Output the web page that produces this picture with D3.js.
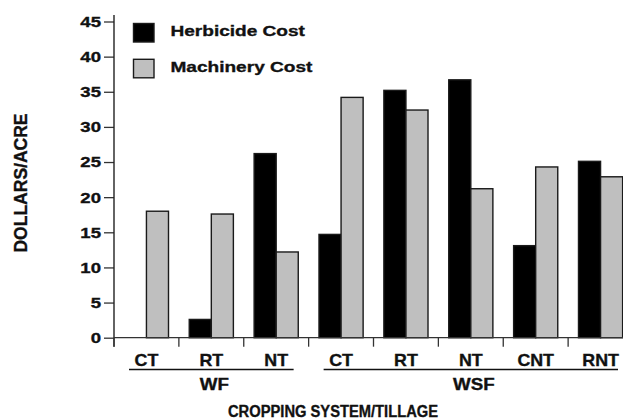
<!DOCTYPE html>
<html>
<head>
<meta charset="utf-8">
<script src="https://cdn.jsdelivr.net/npm/d3@7"></script>
<style>
    body { margin: 0; background: #fff; }
    text { font-family: "Liberation Sans", Arial, sans-serif; font-weight: bold; fill: #111;
           stroke: #111; stroke-width: 0.35px; }
</style>
</head>
<body>
<script>
// chart values
const systems = ["WF", "WF", "WF", "WSF", "WSF", "WSF", "WSF", "WSF"];
const tillage = ["CT", "RT", "NT", "CT", "RT", "NT", "CNT", "RNT"];
const herbicide = [0, 2.6, 26.2, 14.7, 35.2, 36.7, 13.1, 25.1];
const machinery = [18.0, 17.6, 12.2, 34.2, 32.4, 21.2, 24.3, 22.9];
const seriesNames = ["Herbicide Cost", "Machinery Cost"];
const yTicks = [0, 5, 10, 15, 20, 25, 30, 35, 40, 45];

const width = 623, height = 419;
const colors = { "Herbicide Cost": "#000", "Machinery Cost": "#bfbfbf" };

const keys = tillage.map((t, i) => systems[i] + "-" + t);
let rows = keys.map((k, i) => ({ key: k, system: systems[i], tillage: tillage[i],
    values: [herbicide[i], machinery[i]] }));

let svg = d3.select("body").append("svg")
    .attr("width", width)
    .attr("height", height);

// the original lettering is wider than Arial, so stretch it sideways
function wideText(parent, px, py, str, size, sx, anchor) {
    return parent.append("text")
        .attr("transform", "translate(" + px + "," + py + ") scale(" + sx + ",1)")
        .attr("text-anchor", anchor || "start")
        .attr("font-size", size)
        .text(str);
}

let x = d3.scaleBand()
    .domain(keys)
    .range([114, 633])
    .padding(0);

let x1 = d3.scaleBand()
    .domain(seriesNames)
    .range([0, x.bandwidth()])
    .paddingInner(0)
    .paddingOuter(0.47);

let y = d3.scaleLinear()
    .domain([0, 45])
    .range([337.7, 21.5]);

const y0 = y(0);

// bars
let groups = svg.append("g").selectAll("g")
    .data(rows)
    .join("g")
    .attr("transform", d => "translate(" + x(d.key) + ",0)");

groups.selectAll("rect")
    .data(d => d.values.map((v, j) => ({ name: seriesNames[j], value: v })).filter(e => e.value > 0))
    .join("rect")
    .attr("x", d => x1(d.name))
    .attr("y", d => y(d.value))
    .attr("width", x1.bandwidth())
    .attr("height", d => y0 - y(d.value))
    .attr("fill", d => colors[d.name])
    .attr("stroke", "#1a1a1a")
    .attr("stroke-width", 1.4);

// y axis
let yAxis = svg.append("g")
    .attr("transform", "translate(" + x.range()[0] + ",0)")
    .call(d3.axisLeft(y).tickValues(yTicks).tickSize(10).tickPadding(3).tickSizeOuter(0));
yAxis.select(".domain").remove();
yAxis.selectAll(".tick line").attr("stroke", "#333").attr("stroke-width", 1.3);
yAxis.selectAll(".tick text")
    .attr("x", -13 / 1.2)
    .attr("transform", "scale(1.2,1)")
    .attr("font-size", 15.5)
    .attr("font-family", "Liberation Sans, Arial, sans-serif")
    .attr("font-weight", "bold")
    .attr("fill", "#111");

svg.append("line")
    .attr("x1", x.range()[0]).attr("x2", x.range()[0])
    .attr("y1", y(45) - 6.5).attr("y2", y0 + 9)
    .attr("stroke", "#222").attr("stroke-width", 1.4);

// x axis
svg.append("line")
    .attr("x1", x.range()[0]).attr("x2", x.range()[1])
    .attr("y1", y0).attr("y2", y0)
    .attr("stroke", "#333").attr("stroke-width", 1.3);

svg.append("g").selectAll("line")
    .data(keys)
    .join("line")
    .attr("x1", d => x(d)).attr("x2", d => x(d))
    .attr("y1", y0).attr("y2", y0 + 9)
    .attr("stroke", "#333").attr("stroke-width", 1.3);

let catLabels = svg.append("g");
rows.forEach(d => {
    wideText(catLabels, x(d.key) + x.bandwidth() / 2, 365.5, d.tillage, 16.5, 1.08, "middle");
});

// system group lines and labels
const systemNames = Array.from(new Set(systems));
systemNames.forEach(s => {
    const members = keys.filter((k, i) => systems[i] === s);
    const xs = x(members[0]) + 15;
    const xe = x(members[members.length - 1]) + x.bandwidth() - 15;
    svg.append("line")
        .attr("x1", xs).attr("x2", xe)
        .attr("y1", 369.5).attr("y2", 369.5)
        .attr("stroke", "#111").attr("stroke-width", 1.5);
    wideText(svg, (xs + xe) / 2 + 3, 389.5, s, 16.3, 1.15, "middle");
});

// titles
wideText(svg, 333, 416.5, "CROPPING SYSTEM/TILLAGE", 16, 0.92, "middle");

svg.append("text")
    .attr("transform", "translate(26.5,183) rotate(-90)")
    .attr("text-anchor", "middle")
    .attr("font-size", 17.5)
    .text("DOLLARS/ACRE");

// legend
let legend = svg.append("g").selectAll("g")
    .data(seriesNames)
    .join("g")
    .attr("transform", (d, i) => "translate(133.5," + (23.5 + i * 35.8) + ")");

legend.append("rect")
    .attr("width", 20.5)
    .attr("height", 18.5)
    .attr("fill", d => colors[d])
    .attr("stroke", "#1a1a1a")
    .attr("stroke-width", 1.4);

legend.each(function (d) {
    wideText(d3.select(this), 37, 12.3, d, 15.5, 1.23);
});
</script>
</body>
</html>
